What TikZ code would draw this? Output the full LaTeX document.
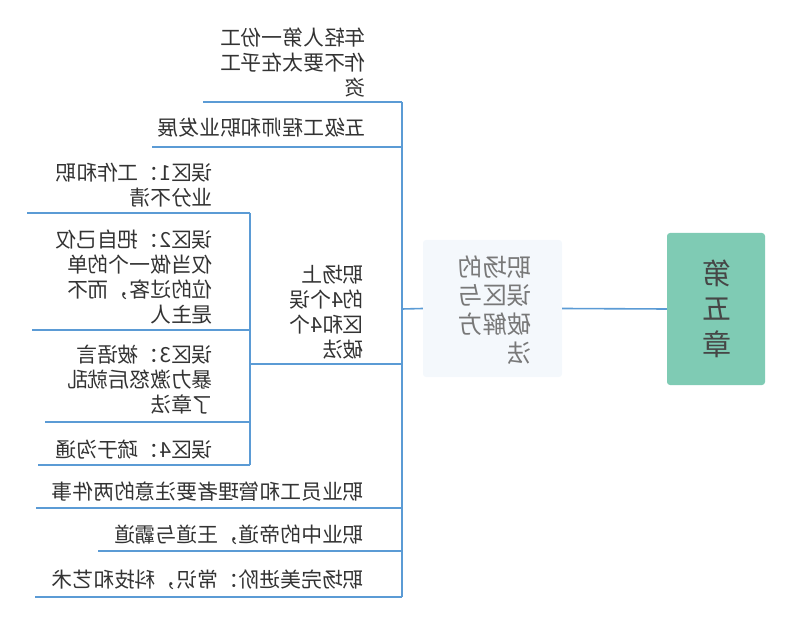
\documentclass[tikz,border=0pt]{standalone}
\usepackage{fontspec}
\setmainfont{Noto Sans CJK SC}
\usepackage{graphicx}
\definecolor{lineblue}{RGB}{91,155,213}
\definecolor{rootgreen}{RGB}{127,203,180}
\definecolor{centerfill}{RGB}{244,248,252}
\definecolor{textgray}{RGB}{51,51,51}
\definecolor{centertext}{RGB}{120,120,120}
\definecolor{roottext}{RGB}{70,70,70}
\newcommand\mtabl[1]{\reflectbox{\begin{tabular}[t]{@{}l@{}}#1\end{tabular}}}
\newcommand\mtabc[1]{\reflectbox{\begin{tabular}[t]{@{}c@{}}#1\end{tabular}}}
\begin{document}
\begin{tikzpicture}[x=1pt,y=-1pt,
  conn/.style={draw=lineblue,line width=1.6pt},
  lbl/.style={inner sep=0pt,anchor=base east,text=textgray,font=\fontsize{20.8}{24.5}\selectfont},
  rootbox/.style={rectangle,fill=rootgreen,rounded corners=3pt,minimum width=98pt,minimum height=152pt,inner sep=0pt},
  centerbox/.style={rectangle,fill=centerfill,rounded corners=3pt,minimum width=139pt,minimum height=137pt,inner sep=0pt},
  rootlabel/.style={inner sep=0pt,anchor=base,text=roottext,font=\fontsize{29}{35.5}\selectfont},
  centerlabel/.style={inner sep=0pt,anchor=base east,text=centertext,font=\fontsize{24.5}{27.5}\selectfont},
]
\useasboundingbox (0,0) rectangle (800,617);
% root and centre
\node[rootbox] (root) at (716,309) {};
\node[rootlabel] (rootlbl) at (717,284.5) {\mtabc{第\\五\\章}};
\node[centerbox] (center) at (492.5,308.5) {};
\node[centerlabel] (centerlbl) at (532,276.3) {\mtabl{职场的\\误区与\\破解方\\法}};
\draw[conn] (root.west) -- (center.east);
% trunk
\coordinate (ttop) at (402,102);
\coordinate (tmid) at (402,309);
\coordinate (tbot) at (402,597);
\draw[conn] (center.west) -- (tmid);
\draw[conn] (ttop) -- (tbot);
% branch ends on trunk
\coordinate (b1r) at (402,102);   \coordinate (b1l) at (203,102);
\coordinate (b2r) at (402,147);   \coordinate (b2l) at (152,147);
\coordinate (b3r) at (402,364);   \coordinate (b3l) at (250,364);
\coordinate (b4r) at (402,508);   \coordinate (b4l) at (36,508);
\coordinate (b5r) at (402,551);   \coordinate (b5l) at (98,551);
\coordinate (b6r) at (402,597);   \coordinate (b6l) at (35,597);
\foreach \i in {1,...,6} {\draw[conn] (b\i r) -- (b\i l);}
% sub trunk
\coordinate (stop) at (250,213);
\coordinate (sbot) at (250,465);
\draw[conn] (stop) -- (sbot);
\coordinate (s1r) at (250,213);  \coordinate (s1l) at (27,213);
\coordinate (s2r) at (250,330);  \coordinate (s2l) at (32,330);
\coordinate (s3r) at (250,422);  \coordinate (s3l) at (45,422);
\coordinate (s4r) at (250,465);  \coordinate (s4l) at (38,465);
\foreach \i in {1,...,4} {\draw[conn] (s\i r) -- (s\i l);}
% labels
\node[lbl] (n1) at (366,45.8) {\mtabl{年轻人第一份工\\作不要太在乎工\\资}};
\node[lbl] (n2) at (366,135.8) {\mtabl{五级工程师和职业发展}};
\node[lbl] (n3) at (364,282.8) {\mtabl{职场上\\的4个误\\区和4个\\破法}};
\node[lbl] (m1) at (213,180.8) {\mtabl{误区1：工作和职\\业分不清}};
\node[lbl] (m2) at (213,247.8) {\mtabl{误区2：把自己仅\\仅当做一个的单\\位的过客，而不\\是主人}};
\node[lbl] (m3) at (213,362.8) {\mtabl{误区3：被语言\\暴力激怒后就乱\\了章法}};
\node[lbl] (m4) at (213,457.8) {\mtabl{误区4：疏于沟通}};
\node[lbl] (n4) at (364,499.8) {\mtabl{职业员工和管理者要注意的两件事}};
\node[lbl] (n5) at (364,542.8) {\mtabl{职业中的帝道，王道与霸道}};
\node[lbl] (n6) at (364,587.8) {\mtabl{职场完美进阶：常识，科技和艺术}};
\end{tikzpicture}
\end{document}
